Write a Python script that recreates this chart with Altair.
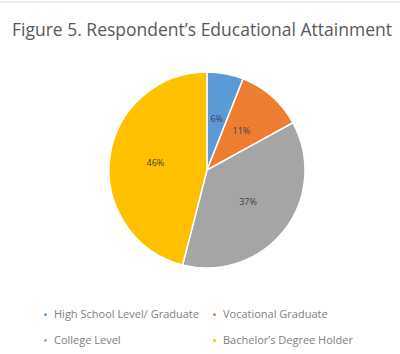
import altair as alt
import pandas as pd

categories = ["High School Level/ Graduate", "Vocational Graduate", "College Level", "Bachelor’s Degree Holder"]
values = [6, 11, 37, 46]
labels = ["6%", "11%", "37%", "46%"]
colors = ["#5B9BD5", "#ED7D31", "#A5A5A5", "#FFC000"]
legend_order = ["High School Level/ Graduate", "College Level", "Vocational Graduate", "Bachelor’s Degree Holder"]
title_text = "Figure 5. Respondent’s Educational Attainment"

df = pd.DataFrame({"category": categories, "value": values, "label": labels, "order": [0, 1, 2, 3]})

cx, cy = 207, 170

base = alt.Chart(df).encode(
    theta=alt.Theta("value:Q", stack=True),
    order=alt.Order("order:Q"),
)

pie = base.mark_arc(radius=98, stroke="white", strokeWidth=1.5).encode(
    x=alt.value(cx), y=alt.value(cy),
    color=alt.Color("category:N",
                    scale=alt.Scale(domain=legend_order,
                                    range=[colors[categories.index(c)] for c in legend_order]),
                    legend=alt.Legend(title=None, orient="none", legendX=40, legendY=309,
                                      columns=2, symbolType="circle", symbolSize=20,
                                      labelFontSize=11, labelColor="#808080", labelFont="Open Sans",
                                      labelOffset=3,
                                      rowPadding=14, columnPadding=10, labelLimit=250)),
)

text = base.mark_text(radius=52, fontSize=9, color="#404040", font="Open Sans").encode(
    x=alt.value(cx), y=alt.value(cy), text="label:N"
)

title = alt.Chart(pd.DataFrame({"t": [title_text]})).mark_text(
    fontSize=17.5, color="#595959", font="Open Sans", align="left", baseline="middle"
).encode(x=alt.value(12), y=alt.value(31), text="t:N")

topline = alt.Chart(pd.DataFrame({"a": [0]})).mark_rule(color="#d9d9d9", strokeWidth=1).encode(
    x=alt.value(0), x2=alt.value(400), y=alt.value(2)
)

chart = alt.layer(topline, pie, text, title).properties(
    width=400, height=354, padding=0, autosize=alt.AutoSizeParams(type="none")
).configure_view(stroke=None)

chart.save("out.html", embed_options={"renderer": "svg", "actions": False})
